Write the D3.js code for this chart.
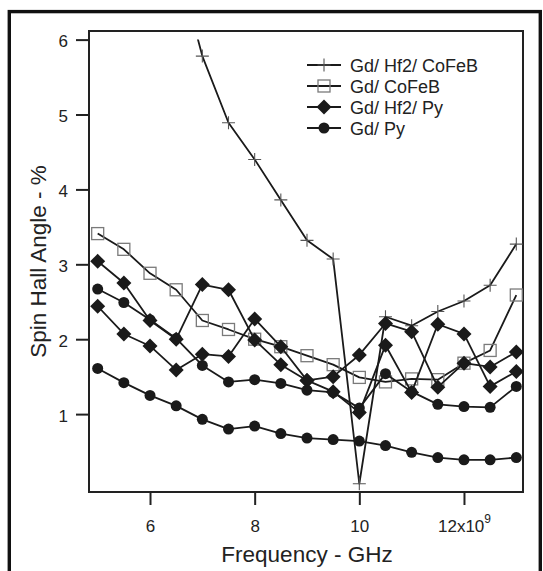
<!DOCTYPE html>
<html>
<head>
<meta charset="utf-8">
<script src="https://cdn.jsdelivr.net/npm/d3@7"></script>
<style>
  html, body { margin: 0; padding: 0; background: #fff; }
  svg { display: block; }
  text { font-family: "Liberation Sans", Arial, Helvetica, sans-serif; fill: #222; }
</style>
</head>
<body>
<svg id="chart" width="543" height="571"></svg>
<script>
// ---------- data ----------
const freq = [5, 5.5, 6, 6.5, 7, 7.5, 8, 8.5, 9, 9.5, 10, 10.5, 11, 11.5, 12, 12.5, 13];
const gdHf2CoFeB = [null, null, null, 7.1, 5.78, 4.89, 4.40, 3.86, 3.32, 3.07, 0.07, 2.30, 2.18, 2.37, 2.51, 2.72, 3.27];
const gdCoFeB    = [3.41, 3.20, 2.88, 2.66, 2.25, 2.13, 2.00, 1.90, 1.78, 1.66, 1.49, 1.43, 1.47, 1.46, 1.68, 1.85, 2.59];
const gdHf2PyA   = [3.04, 2.75, 2.25, 2.00, 2.73, 2.66, 1.99, 1.66, 1.45, 1.50, 1.79, 2.21, 2.10, 1.36, 1.68, 1.63, 1.83];
const gdHf2PyB   = [2.44, 2.07, 1.91, 1.59, 1.80, 1.77, 2.27, 1.90, 1.45, 1.30, 1.02, 1.92, 1.29, 2.20, 2.07, 1.37, 1.57];
const gdPyA      = [2.67, 2.49, 2.26, 2.01, 1.65, 1.43, 1.46, 1.41, 1.32, 1.29, 1.08, 1.54, 1.30, 1.13, 1.10, 1.09, 1.37];
const gdPyB      = [1.61, 1.42, 1.25, 1.11, 0.93, 0.80, 0.84, 0.74, 0.68, 0.66, 0.64, 0.58, 0.49, 0.42, 0.39, 0.39, 0.42];

const legendLabels = ["Gd/ Hf2/ CoFeB", "Gd/ CoFeB", "Gd/ Hf2/ Py", "Gd/ Py"];
const legendMarkers = ["plus", "square", "diamond", "circle"];
const xTickValues = [6, 8, 10, 12];
const xTickLabels = ["6", "8", "10", "12x10"];
const xExponent = "9";
const yTickValues = [1, 2, 3, 4, 5, 6];
const xTitle = "Frequency - GHz";
const yTitle = "Spin Hall Angle - %";

// ---------- layout ----------
const svg = d3.select("#chart");
const plot = { left: 89, right: 523, top: 31, bottom: 492 };

const x = d3.scaleLinear().domain([4.834, 13.128]).range([plot.left, plot.right]);
const y = d3.scaleLinear().domain([-0.04, 6.115]).range([plot.bottom, plot.top]);

// outer frame
svg.append("rect")
  .attr("x", 9.3).attr("y", 11.6)
  .attr("width", 531).attr("height", 640)
  .attr("fill", "none").attr("stroke", "#111").attr("stroke-width", 3.4);

// clip for values above the top of the scale
svg.append("defs").append("clipPath").attr("id", "clipTop")
  .append("rect")
  .attr("x", plot.left).attr("y", y(6.0))
  .attr("width", plot.right - plot.left).attr("height", plot.bottom - y(6.0));

// axes
const xAxis = d3.axisBottom(x).tickValues(xTickValues).tickSize(13).tickSizeOuter(0).tickPadding(15)
  .tickFormat((d, i) => xTickLabels[i]);
const yAxis = d3.axisLeft(y).tickValues(yTickValues).tickSize(13).tickSizeOuter(0).tickPadding(8)
  .tickFormat(d3.format("d"));

const gx = svg.append("g").attr("transform", `translate(0,${plot.bottom})`).call(xAxis);
const gy = svg.append("g").attr("transform", `translate(${plot.left},0)`).call(yAxis);
[gx, gy].forEach(g => {
  g.select(".domain").remove();
  g.selectAll(".tick line").attr("stroke", "#222").attr("stroke-width", 2);
  g.selectAll(".tick text").attr("font-size", 17).attr("fill", "#222")
    .attr("font-family", "'Liberation Sans', Arial, sans-serif");
});
gy.selectAll(".tick text").attr("dy", "0.42em");
gx.selectAll(".tick text").filter(d => d === 12)
  .append("tspan").attr("dy", -9).attr("font-size", 12).text(xExponent);

// plot frame
svg.append("rect")
  .attr("x", plot.left).attr("y", plot.top)
  .attr("width", plot.right - plot.left).attr("height", plot.bottom - plot.top)
  .attr("fill", "none").attr("stroke", "#222").attr("stroke-width", 2);

// titles
svg.append("text").attr("x", (plot.left + plot.right) / 2 + 1).attr("y", 562)
  .attr("text-anchor", "middle").attr("font-size", 22.5).text(xTitle);
svg.append("text").attr("transform", `translate(46,${(plot.top + plot.bottom) / 2}) rotate(-90)`)
  .attr("text-anchor", "middle").attr("font-size", 22.5).text(yTitle);

// marker drawing
function drawMarker(g, type) {
  if (type === "plus") {
    g.append("path").attr("d", "M-6.5,0H6.5M0,-6.5V6.5")
      .attr("stroke", "#555").attr("stroke-width", 1.1).attr("fill", "none");
  } else if (type === "square") {
    g.append("rect").attr("x", -6).attr("y", -6).attr("width", 12).attr("height", 12)
      .attr("fill", "none").attr("stroke", "#7a7a7a").attr("stroke-width", 1.3);
  } else if (type === "diamond") {
    g.append("path").attr("d", "M0,-7.5L7.5,0L0,7.5L-7.5,0Z").attr("fill", "#1a1a1a");
  } else if (type === "circle") {
    g.append("circle").attr("r", 5.5).attr("fill", "#1a1a1a");
  }
}

const line = d3.line()
  .defined(d => d.v !== null)
  .x(d => x(d.f)).y(d => y(d.v));

function drawSeries(values, marker, clip) {
  const data = freq.map((f, i) => ({ f, v: values[i] }));
  const g = svg.append("g");
  if (clip) g.attr("clip-path", "url(#clipTop)");
  g.append("path").datum(data).attr("d", line)
    .attr("fill", "none").attr("stroke", "#1a1a1a").attr("stroke-width", 1.8)
    .attr("stroke-linejoin", "round");
  data.filter(d => d.v !== null).forEach(d => {
    const m = g.append("g").attr("transform", `translate(${x(d.f)},${y(d.v)})`);
    drawMarker(m, marker);
  });
}

drawSeries(gdCoFeB, "square", false);
drawSeries(gdHf2CoFeB, "plus", true);
drawSeries(gdHf2PyA, "diamond", false);
drawSeries(gdHf2PyB, "diamond", false);
drawSeries(gdPyA, "circle", false);
drawSeries(gdPyB, "circle", false);

// legend
const legendRows = [65, 86, 107, 128];
legendLabels.forEach((lab, i) => {
  const g = svg.append("g").attr("transform", `translate(0,${legendRows[i]})`);
  g.append("line").attr("x1", 307).attr("x2", 341).attr("y1", 0).attr("y2", 0)
    .attr("stroke", "#1a1a1a").attr("stroke-width", 1.8);
  drawMarker(g.append("g").attr("transform", "translate(324,0)"), legendMarkers[i]);
  g.append("text").attr("x", 350).attr("y", 6.5).attr("font-size", 18).text(lab);
});
</script>
</body>
</html>
